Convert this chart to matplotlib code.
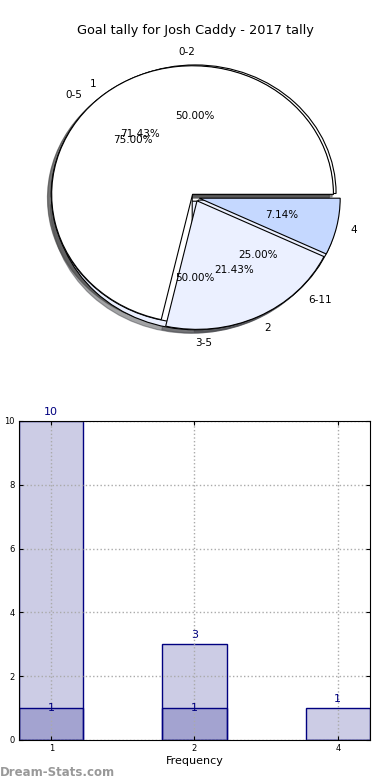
"""Goal tally pie + frequency bars for one player."""

import matplotlib

matplotlib.use("Agg")
import matplotlib.pyplot as plt

# --- data ---
halves_labels = ["0-2", "3-5"]
halves_values = [1, 1]

range_labels = ["0-5", "6-11"]
range_values = [3, 1]

freq_labels = ["1", "2", "4"]
freq_values = [10, 3, 1]

bar_totals = [10, 3, 1]
bar_inner = [1, 1, 0]

pie_colors = ["#ffffff", "#ebf0ff", "#c5d8ff"]
navy = "#000080"

fig = plt.figure(figsize=(3.9, 7.8), dpi=100)

# --- overlaid pies ---
ax_pie = fig.add_axes([0.049, 0.541, 0.903, 0.412])
for labels, values in [
    (halves_labels, halves_values),
    (range_labels, range_values),
    (freq_labels, freq_values),
]:
    ax_pie.pie(
        values,
        labels=labels,
        colors=pie_colors[: len(values)],
        explode=[0.03] * len(values),
        autopct="%1.2f%%",
        shadow=True,
        startangle=0,
        wedgeprops={"edgecolor": "black", "linewidth": 0.8},
        textprops={"fontsize": 7.5},
    )
ax_pie.set_aspect("auto")
ax_pie.set_xlim(-1.25, 1.25)
ax_pie.set_ylim(-1.25, 1.25)
fig.text(0.5, 0.957, "Goal tally for Josh Caddy - 2017 tally", ha="center", fontsize=9.3)

# --- frequency bars ---
ax = fig.add_axes([0.0487, 0.0513, 0.9, 0.409])
x = range(len(freq_labels))
width = 0.45
ax.bar(x, bar_totals, width, facecolor=(0, 0, 0.5, 0.2), edgecolor=navy, linewidth=1, zorder=2)
ax.bar(x, bar_inner, width, facecolor=(0, 0, 0.5, 0.2), edgecolor=navy, linewidth=1, zorder=2)
for i, v in enumerate(bar_totals):
    ax.text(i, v + 0.12, str(v), ha="center", va="bottom", color=navy, fontsize=8, zorder=6)
for i, v in enumerate(bar_inner):
    if v:
        ax.text(i, v, str(v), ha="center", va="center", color=navy, fontsize=8, zorder=6)

ax.set_xlim(-0.225, 2.225)
ax.set_ylim(0, 10)
ax.set_yticks(range(0, 11, 2))
ax.set_xticks(list(x))
ax.set_xticklabels(freq_labels)
ax.tick_params(labelsize=6, direction="in", length=3, top=True, right=True, pad=3)
ax.grid(True, linestyle=":", color="#aaaaaa", linewidth=1, zorder=3)
ax.set_axisbelow(False)
for spine in ax.spines.values():
    spine.set_zorder(5)
ax.set_xlabel("Frequency", fontsize=8, labelpad=2)
ax.set_ylabel("Goal Intervals", fontsize=7)
ax.yaxis.set_label_coords(-0.075, 0.5)

fig.text(0.0, 0.005, "Dream-Stats.com", fontsize=8.5, color="#999999", fontweight="bold")

fig.savefig("out.png", dpi=100)
